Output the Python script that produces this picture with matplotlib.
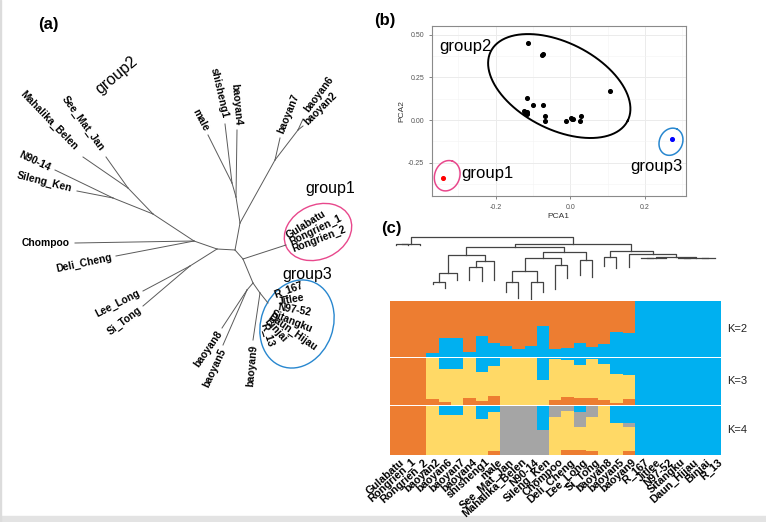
import numpy as np
import matplotlib.pyplot as plt
from matplotlib.patches import Ellipse, Rectangle

plt.rcParams['font.family'] = ['Liberation Sans', 'DejaVu Sans']

W, H = 766, 522

# ---------------- data ----------------
samples = ['Gulabatu', 'Rongrien_1', 'Rongrien_2', 'baoyan2', 'baoyan6', 'baoyan7',
           'baoyan4', 'shisheng1', 'male', 'See_Mat_Jan', 'Mahalika_Belen', 'N90-14',
           'Sileng_Ken', 'Chompoo', 'Deli_Cheng', 'Lee_Long', 'Si_Tong', 'baoyan8',
           'baoyan5', 'baoyan9', 'R_167', 'Jitlee', 'N97-52', 'Sitangku', 'Daun_Hijau',
           'Binjai', 'R_13']

# K=2 : blue share (bottom), orange on top
k2_blue = [0, 0, 0, 0.07, 0.34, 0.35, 0.09, 0.38, 0.25, 0.20, 0.14, 0.19, 0.56, 0.15,
           0.16, 0.26, 0.18, 0.24, 0.44, 0.43, 1, 1, 1, 1, 1, 1, 1]
# K=3 : orange (bottom), yellow, blue (top)
k3_orange = [1, 1, 1, 0.12, 0.05, 0, 0.14, 0.09, 0.19, 0, 0, 0, 0, 0.10, 0.17, 0.14,
             0.14, 0.11, 0.04, 0.13, 0, 0, 0, 0, 0, 0, 0]
k3_blue = [0, 0, 0, 0, 0.24, 0.24, 0, 0.29, 0.16, 0, 0, 0, 0.46, 0.02, 0.03, 0.14,
           0.02, 0.12, 0.33, 0.36, 1, 1, 1, 1, 1, 1, 1]
# K=4 : orange (bottom), yellow, gray, blue (top)
k4_orange = [1, 1, 1, 0, 0, 0, 0, 0, 0.07, 0, 0, 0, 0, 0, 0.09, 0.09, 0.07, 0, 0, 0.07,
             0, 0, 0, 0, 0, 0, 0]
k4_gray = [0, 0, 0, 0, 0, 0, 0, 0, 0, 1, 1, 1, 0.51, 0.23, 0.10, 0.31, 0.23, 0, 0, 0.08,
           0, 0, 0, 0, 0, 0, 0]
k4_blue = [0, 0, 0, 0, 0.20, 0.19, 0, 0.27, 0.12, 0, 0, 0, 0.49, 0, 0, 0.13, 0, 0, 0.35,
           0.35, 1, 1, 1, 1, 1, 1, 1]

# dendrogram over the structure plot: leaf depths and merges (left, right, depth)
leaf_depth = [59, 59, 59, 178, 188, 165, 165, 168, 165, 200, 218, 222, 200, 192, 160,
              150, 155, 122, 130, 125, 98, 98, 98, 98, 98, 98, 98]
merges = [(0, 1, 57), (27, 2, 57), (3, 4, 172), (29, 5, 143), (6, 7, 125), (31, 8, 107),
          (30, 32, 90), (9, 10, 170), (11, 12, 172), (34, 35, 137), (13, 14, 120),
          (36, 37, 100), (15, 16, 105), (38, 39, 80), (33, 40, 67), (17, 18, 95),
          (20, 21, 97.5), (43, 22, 97.5), (23, 24, 97.5), (25, 26, 97.5), (45, 46, 97.5),
          (44, 47, 97), (19, 48, 88), (42, 49, 78), (41, 50, 58), (28, 51, 37)]

# PCA scores
pca_g2_x = [-0.112, -0.076, -0.072, -0.116, -0.101, -0.074, -0.124, -0.119, -0.115,
            -0.069, -0.067, -0.012, 0.002, 0.008, 0.027, 0.029, 0.106, -0.121, -0.117, 0.005]
pca_g2_y = [0.452, 0.380, 0.386, 0.127, 0.086, 0.086, 0.053, 0.039, 0.045, 0.023,
            -0.004, -0.006, 0.010, 0.004, -0.006, 0.021, 0.172, 0.048, 0.036, 0.008]
pca_g1 = (-0.340, -0.341)
pca_g3 = (0.273, -0.111)

# unrooted tree (layout positions, pixel units)
tree_nodes = {
    'C0': (235, 250), 'U1': (240, 223), 'U2': (236, 197), 'U3': (232, 183),
    'U4': (275, 160), 'U5': (298, 130), 'L1': (217, 249), 'LS': (190, 266),
    'L2': (194, 241), 'L3': (153, 214), 'L4': (113, 198), 'L5': (128, 188),
    'D1': (243, 259), 'G1': (286, 245), 'D2': (253, 283), 'B85': (247, 290),
    'D3': (260, 293), 'G3': (268, 303),
    'male': (208, 135), 'shisheng1': (225, 124), 'baoyan4': (237, 130),
    'baoyan7': (280, 138), 'baoyan6': (303, 119), 'baoyan2': (303, 126),
    'Mahalika_Belen': (83, 157), 'See_Mat_Jan': (106, 157), 'N90-14': (55, 170),
    'Sileng_Ken': (77, 191), 'Chompoo': (75, 243), 'Deli_Cheng': (116, 256),
    'Lee_Long': (143, 291), 'Si_Tong': (143, 306), 'baoyan8': (222, 328),
    'baoyan5': (223, 345), 'baoyan9': (253, 340),
}
tree_edges = [('C0', 'U1'), ('U1', 'U2'), ('U2', 'U3'), ('U3', 'male'), ('U3', 'shisheng1'),
              ('U2', 'baoyan4'), ('U1', 'U4'), ('U4', 'baoyan7'), ('U4', 'U5'),
              ('U5', 'baoyan6'), ('U5', 'baoyan2'), ('C0', 'L1'), ('L1', 'LS'),
              ('LS', 'Lee_Long'), ('LS', 'Si_Tong'), ('L1', 'L2'), ('L2', 'Chompoo'),
              ('L2', 'Deli_Cheng'), ('L2', 'L3'), ('L3', 'L4'), ('L4', 'N90-14'),
              ('L4', 'Sileng_Ken'), ('L3', 'L5'), ('L5', 'Mahalika_Belen'),
              ('L5', 'See_Mat_Jan'), ('C0', 'D1'), ('D1', 'G1'), ('D1', 'D2'),
              ('D2', 'B85'), ('B85', 'baoyan8'), ('B85', 'baoyan5'), ('D2', 'D3'),
              ('D3', 'baoyan9'), ('D3', 'G3')]
# tip labels: name, anchor x, anchor y, rotation, alignment
tree_labels = [
    ('Mahalika_Belen', 76, 148, -46, 'right'), ('See_Mat_Jan', 102, 150, -54, 'right'),
    ('N90-14', 50, 168, -25, 'right'), ('Sileng_Ken', 72, 189, -14, 'right'),
    ('Chompoo', 70, 243, 0, 'right'), ('Deli_Cheng', 112, 257, 12, 'right'),
    ('Lee_Long', 139, 292, 27, 'right'), ('Si_Tong', 141, 309, 37, 'right'),
    ('baoyan8', 220, 332, 55, 'right'), ('baoyan5', 223, 349, 65, 'right'),
    ('baoyan9', 254, 345, 85, 'right'), ('male', 206, 131, -62, 'right'),
    ('shisheng1', 225, 118, -77, 'right'), ('baoyan4', 238, 125, -85, 'right'),
    ('baoyan7', 281, 133, 68, 'left'), ('baoyan6', 306, 111, 53, 'left'),
    ('baoyan2', 306, 123, 45, 'left'), ('Gulabatu', 287, 236, 32, 'left'),
    ('Rongrien_1', 290, 242, 26, 'left'), ('Rongrien_2', 293, 249, 21, 'left'),
    ('R_167', 275, 295, 20, 'left'), ('Jitlee', 278, 302, 10, 'left'),
    ('N97-52', 278, 307, -10, 'left'), ('Sitangku', 272, 313, -22, 'left'),
    ('Daun_Hijau', 269, 316, -35, 'left'), ('Binjai', 266, 320, -48, 'left'),
    ('R_13', 263, 323, -72, 'left'),
]

ORANGE, BLUE, YELLOW, GRAY = '#ED7D31', '#00B0F0', '#FFD966', '#A5A5A5'
PINK, CBLUE = '#E8488C', '#2887CF'


def frac(x0, y0, x1, y1):
    # pixel box (top-left origin) -> figure fraction rect
    return [x0 / W, 1 - y1 / H, (x1 - x0) / W, (y1 - y0) / H]


fig = plt.figure(figsize=(W / 100, H / 100), dpi=100)
fig.patches.append(Rectangle((0, 0), 1, 6 / H, transform=fig.transFigure,
                             color='#e3e3e3', zorder=0))
fig.patches.append(Rectangle((0, 0), 1.5 / W, 1, transform=fig.transFigure,
                             color='#dcdcdc', zorder=0))

# ---------------- (a) tree ----------------
ax = fig.add_axes([0, 0, 380 / W, 1])
ax.set_xlim(0, 380)
ax.set_ylim(H, 0)
ax.axis('off')
for p, c in tree_edges:
    (x0, y0), (x1, y1) = tree_nodes[p], tree_nodes[c]
    ax.plot([x0, x1], [y0, y1], color='#5a5a5a', lw=0.7)
for name, lx, ly, rot, ha in tree_labels:
    ax.text(lx, ly, name, rotation=rot, ha=ha, va='center', rotation_mode='anchor',
            fontsize=7.4, fontweight='bold')
ax.add_patch(Ellipse((318, 232), 70, 54, angle=-25, fill=False, ec=PINK, lw=1.0))
ax.add_patch(Ellipse((297, 324), 90, 72, angle=-70, fill=False, ec=CBLUE, lw=1.0))
ax.text(117, 75, 'group2', rotation=40, ha='center', va='center', fontsize=11.5)
ax.text(330, 189, 'group1', ha='center', va='center', fontsize=11.5)
ax.text(307, 274, 'group3', ha='center', va='center', fontsize=11.5)
ax.text(48, 25, '(a)', ha='center', va='center', fontsize=12, fontweight='bold')

# ---------------- (b) PCA ----------------
axp = fig.add_axes(frac(431.7, 26, 685.7, 196))
axp.set_xlim(-0.371, 0.309)
axp.set_ylim(-0.444, 0.55)
axp.set_xticks([-0.2, 0.0, 0.2])
axp.set_xticklabels(['-0.2', '0.0', '0.2'])
axp.set_yticks([-0.25, 0.0, 0.25, 0.5])
axp.set_yticklabels(['-0.25', '0.00', '0.25', '0.50'])
axp.set_xticks([-0.3, -0.1, 0.1, 0.3], minor=True)
axp.set_yticks([-0.375, -0.125, 0.125, 0.375], minor=True)
axp.grid(True, which='major', color='#ebebeb', lw=0.7)
axp.grid(True, which='minor', color='#f3f3f3', lw=0.4)
axp.set_axisbelow(True)
axp.tick_params(which='major', labelsize=5, colors='#555555', length=2, width=0.5)
axp.tick_params(which='minor', length=0)
for s in axp.spines.values():
    s.set_color('#8a8a8a')
    s.set_linewidth(0.8)
axp.set_xlabel('PCA1', fontsize=6, color='#333333', labelpad=2)
axp.set_ylabel('PCA2', fontsize=6, color='#333333', labelpad=2)
axp.scatter(pca_g2_x, pca_g2_y, s=7, color='black', zorder=3)
axp.scatter([pca_g1[0]], [pca_g1[1]], s=7, color='red', zorder=3)
axp.scatter([pca_g3[0]], [pca_g3[1]], s=7, color='blue', zorder=3)

sx, sy = 373.3, 171.0  # pixels per data unit
t = np.linspace(0, 2 * np.pi, 200)
for cx, cy, a, b, ang, col, lw in [(-0.0295, 0.199, 76.7, 43.3, -27, 'black', 1.4),
                                    (-0.3295, -0.3255, 15.5, 12.5, 70, PINK, 1.1),
                                    (0.2696, -0.1267, 14.0, 11.5, 65, CBLUE, 1.1)]:
    th = np.deg2rad(ang)
    dx = a * np.cos(t) * np.cos(th) - b * np.sin(t) * np.sin(th)
    dy = a * np.cos(t) * np.sin(th) + b * np.sin(t) * np.cos(th)
    axp.plot(cx + dx / sx, cy + dy / sy, color=col, lw=lw)
axp.text(-0.35, 0.43, 'group2', fontsize=12, va='center')
axp.text(-0.291, -0.31, 'group1', fontsize=12, va='center')
axp.text(0.16, -0.27, 'group3', fontsize=12, va='center')
fig.text(374 / W, 1 - 21 / H, '(b)', fontsize=12, fontweight='bold', va='center')

# ---------------- (c) dendrogram + structure ----------------
n = len(samples)
xs = np.arange(n)
fig.text(381 / W, 1 - 229 / H, '(c)', fontsize=12, fontweight='bold', va='center')

axd = fig.add_axes(frac(389.7, 234, 720.7, 300))
axd.set_xlim(-0.5, n - 0.5)
axd.set_ylim(225, 27)
axd.axis('off')
pos = {i: (float(i), leaf_depth[i]) for i in range(n)}
for k, (a_, b_, h) in enumerate(merges):
    xa, ya = pos[a_]
    xb, yb = pos[b_]
    axd.plot([xa, xa, xb, xb], [ya, h, h, yb], color='#444444', lw=0.9)
    pos[n + k] = ((xa + xb) / 2, h)

k2_orange = 1 - np.array(k2_blue)
k3_yellow = 1 - np.array(k3_orange) - np.array(k3_blue)
k4_yellow = 1 - np.array(k4_orange) - np.array(k4_gray) - np.array(k4_blue)

rows = [
    ((301.3, 357), 'K=2', [(k2_blue, BLUE), (k2_orange, ORANGE)]),
    ((358.3, 404.7), 'K=3', [(k3_orange, ORANGE), (k3_yellow, YELLOW), (k3_blue, BLUE)]),
    ((405.7, 454.7), 'K=4', [(k4_orange, ORANGE), (k4_yellow, YELLOW), (k4_gray, GRAY),
                             (k4_blue, BLUE)]),
]
for (y0, y1), lab, parts in rows:
    axs = fig.add_axes(frac(389.7, y0, 720.7, y1))
    bottom = np.zeros(n)
    for vals, col in parts:
        axs.bar(xs, vals, bottom=bottom, width=1.0, color=col, linewidth=0)
        bottom += np.array(vals)
    axs.set_xlim(-0.5, n - 0.5)
    axs.set_ylim(0, 1)
    axs.axis('off')
    fig.text(727 / W, 1 - (y0 + y1) / 2 / H, lab, fontsize=8, va='center', color='#222222')

for i, name in enumerate(samples):
    fig.text((389.7 + 12.26 * (i + 0.75)) / W, 1 - 457 / H, name, rotation=42,
             ha='right', va='top', rotation_mode='anchor', fontsize=7.8, fontweight='bold')

fig.savefig('out.png', dpi=100)
